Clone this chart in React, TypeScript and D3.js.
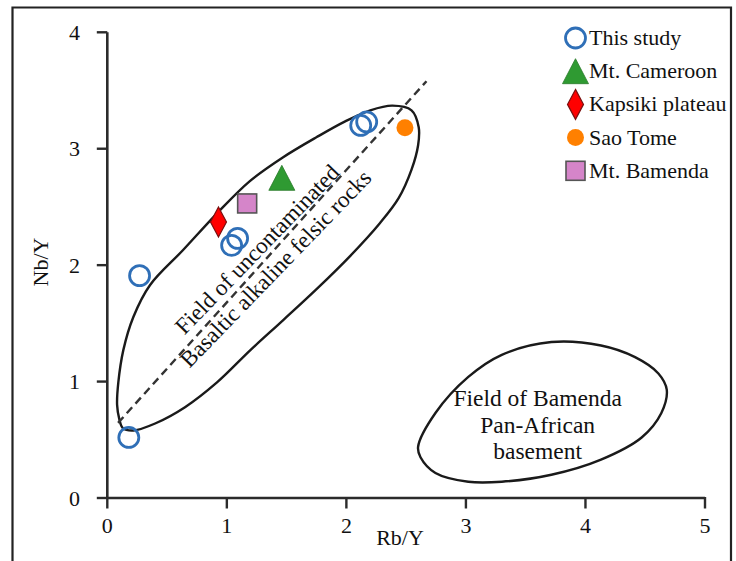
import React from "react";
import * as d3 from "d3";

// Nb/Y versus Rb/Y ratios for each rock suite
const thisStudy: [number, number][] = [
  [0.18, 0.52],
  [0.27, 1.91],
  [1.04, 2.17],
  [1.09, 2.23],
  [2.12, 3.2],
  [2.17, 3.23],
];
const mtCameroon: [number, number][] = [[1.46, 2.75]];
const kapsiki: [number, number][] = [[0.93, 2.37]];
const saoTome: [number, number][] = [[2.49, 3.18]];
const mtBamenda: [number, number][] = [[1.17, 2.53]];

// Trend line through the alkaline field
const trendLine: [number, number][] = [
  [0.09, 0.645],
  [2.67, 3.58],
];

// Outline of the uncontaminated basaltic/alkaline felsic field
const alkalineField: [number, number][] = [
  [0.1, 0.68], [0.082, 0.8], [0.092, 0.99], [0.134, 1.27], [0.218, 1.555],
  [0.358, 1.83], [0.634, 2.13], [0.918, 2.445], [1.19, 2.72], [1.468, 2.925],
  [1.752, 3.1], [1.99, 3.235], [2.2, 3.33], [2.385, 3.37], [2.545, 3.33],
  [2.605, 3.185], [2.6, 3.03], [2.545, 2.82], [2.437, 2.575], [2.28, 2.36],
  [2.033, 2.08], [1.757, 1.8], [1.474, 1.53], [1.197, 1.27], [0.92, 0.995],
  [0.65, 0.78], [0.4, 0.64], [0.22, 0.58], [0.13, 0.6],
];

// Outline of the Bamenda Pan-African basement field
const basementField: [number, number][] = [
  [2.6, 0.44], [2.745, 0.73], [3.02, 1.04], [3.3, 1.23], [3.715, 1.34],
  [4.13, 1.31], [4.415, 1.21], [4.61, 1.07], [4.68, 0.93], [4.635, 0.73],
  [4.47, 0.52], [4.13, 0.33], [3.715, 0.2], [3.3, 0.14], [3.02, 0.14],
  [2.745, 0.215], [2.62, 0.35],
];

const xTicks = [0, 1, 2, 3, 4, 5];
const yTicks = [0, 1, 2, 3, 4];

const legendLabels = [
  "This study",
  "Mt. Cameroon",
  "Kapsiki plateau",
  "Sao Tome",
  "Mt. Bamenda",
];

const W = 736;
const H = 561;
const FONT = "'Liberation Serif', 'Times New Roman', Times, serif";
const BLUE = "#2f6fb7";
const GREEN = "#2f9a32";
const RED = "#ff0000";
const ORANGE = "#ff8000";
const PINK = "#d585c9";
const AXIS = "#2b2b2b";

const x = d3.scaleLinear().domain([0, 5]).range([107.3, 705]);
const y = d3.scaleLinear().domain([0, 4]).range([498, 32.3]);

const outline = d3
  .line<[number, number]>()
  .x((d) => x(d[0]))
  .y((d) => y(d[1]))
  .curve(d3.curveCatmullRomClosed.alpha(0.5));

const straight = d3
  .line<[number, number]>()
  .x((d) => x(d[0]))
  .y((d) => y(d[1]));

type Kind = "circle" | "triangle" | "diamond" | "dot" | "square";

function Marker({ kind, cx, cy }: { kind: Kind; cx: number; cy: number }) {
  switch (kind) {
    case "circle":
      return <circle cx={cx} cy={cy} r={10} fill="none" stroke={BLUE} strokeWidth={2.8} />;
    case "triangle": {
      const w = 26, h = 25;
      const p = `M${cx},${cy - h / 2} L${cx + w / 2},${cy + h / 2} L${cx - w / 2},${cy + h / 2} Z`;
      return <path d={p} fill={GREEN} stroke="#2a7a2a" strokeWidth={0.8} />;
    }
    case "diamond": {
      const w = 16, h = 30;
      const p = `M${cx},${cy - h / 2} L${cx + w / 2},${cy} L${cx},${cy + h / 2} L${cx - w / 2},${cy} Z`;
      return <path d={p} fill={RED} stroke="#7a1010" strokeWidth={1.2} />;
    }
    case "dot":
      return <circle cx={cx} cy={cy} r={8.5} fill={ORANGE} />;
    case "square": {
      const s = 19;
      return (
        <rect x={cx - s / 2} y={cy - s / 2} width={s} height={s} fill={PINK} stroke="#555" strokeWidth={1.6} />
      );
    }
  }
}

const series: { kind: Kind; data: [number, number][] }[] = [
  { kind: "circle", data: thisStudy },
  { kind: "triangle", data: mtCameroon },
  { kind: "diamond", data: kapsiki },
  { kind: "dot", data: saoTome },
  { kind: "square", data: mtBamenda },
];

export default function App() {
  const x0 = x(0);
  const y0 = y(0);
  const tick = 10.5;
  const rot = -46;
  const a1 = [x(1.3), y(2.09)];
  const a2 = [x(1.454), y(1.924)];

  return (
    <svg
      width={W}
      height={H}
      viewBox={`0 0 ${W} ${H}`}
      style={{ position: "absolute", left: 0, top: 0, background: "#fff", fontFamily: FONT }}
    >
      <rect x={0} y={0} width={W} height={H} fill="#fff" />
      {/* outer frame */}
      <path d={`M12.5,${H + 2} V7.5 H731 V${H + 2}`} fill="none" stroke="#222" strokeWidth={2.2} />

      {/* axes */}
      <line x1={x0} x2={x0} y1={y(4)} y2={y0} stroke={AXIS} strokeWidth={2.6} />
      <line x1={x0} x2={x(5)} y1={y0} y2={y0} stroke={AXIS} strokeWidth={2.6} />
      {yTicks.map((t) => (
        <g key={`y${t}`}>
          <line x1={x0 - tick} x2={x0} y1={y(t)} y2={y(t)} stroke={AXIS} strokeWidth={2.4} />
          <text x={80} y={y(t) + 7.5} textAnchor="end" fontSize={22} fill="#111">
            {t}
          </text>
        </g>
      ))}
      {xTicks.map((t) => (
        <g key={`x${t}`}>
          <line x1={x(t)} x2={x(t)} y1={y0 - 1} y2={y0 + tick} stroke={AXIS} strokeWidth={2.4} />
          <text x={x(t)} y={533} textAnchor="middle" fontSize={22} fill="#111">
            {t}
          </text>
        </g>
      ))}
      <text x={400} y={545} textAnchor="middle" fontSize={22} fill="#111">
        Rb/Y
      </text>
      <text transform={`translate(48,262) rotate(-90)`} textAnchor="middle" fontSize={22} fill="#111">
        Nb/Y
      </text>

      {/* compositional fields */}
      <path d={outline(alkalineField) ?? ""} fill="none" stroke="#1a1a1a" strokeWidth={2.4} />
      <path d={outline(basementField) ?? ""} fill="none" stroke="#1a1a1a" strokeWidth={2.4} />
      <path d={straight(trendLine) ?? ""} fill="none" stroke="#333" strokeWidth={2.4} strokeDasharray="8 5" />

      <g fontSize={23} fill="#111" textAnchor="middle">
        <text transform={`translate(${a1[0]},${a1[1]}) rotate(${rot})`}>Field of uncontaminated</text>
        <text transform={`translate(${a2[0]},${a2[1]}) rotate(${rot})`}>Basaltic alkaline felsic rocks</text>
      </g>
      <g fontSize={23.5} fill="#111" textAnchor="middle">
        <text x={x(3.6)} y={406}>Field of Bamenda</text>
        <text x={x(3.6)} y={433}>Pan-African</text>
        <text x={x(3.6)} y={459}>basement</text>
      </g>

      {/* data points */}
      {series.map((s) =>
        s.data.map((d, i) => <Marker key={`${s.kind}${i}`} kind={s.kind} cx={x(d[0])} cy={y(d[1])} />)
      )}

      {/* legend */}
      {series.map((s, i) => {
        const cy = 38 + i * 33.2;
        return (
          <g key={`lg${i}`}>
            <Marker kind={s.kind} cx={575.5} cy={cy} />
            <text x={589} y={cy + 7} fontSize={22} fill="#111">
              {legendLabels[i]}
            </text>
          </g>
        );
      })}
    </svg>
  );
}
